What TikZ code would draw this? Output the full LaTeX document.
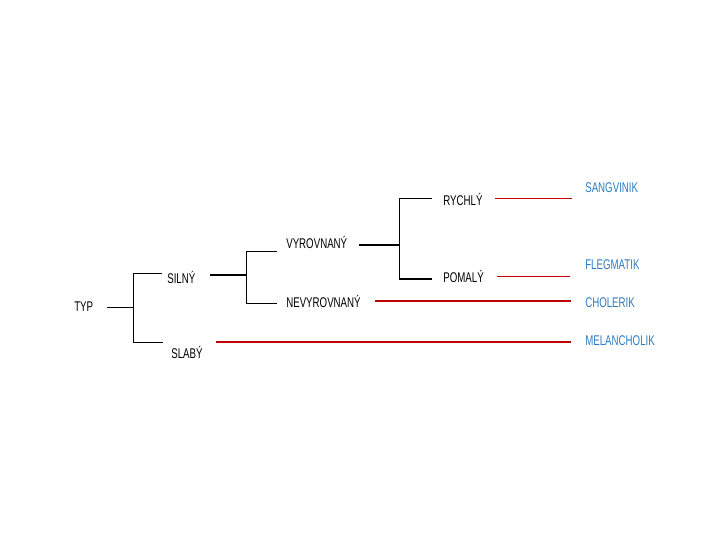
\documentclass[tikz,border=0pt]{standalone}
\usepackage{fontspec}
\usepackage{xcolor}
\usepackage{tikz}
\usetikzlibrary{arrows.meta,positioning}
\newfontfamily\lblfont[FakeStretch=0.69]{Liberation Sans}
\definecolor{typblue}{HTML}{2F7BBF}
\definecolor{typred}{HTML}{C00000}

\begin{document}
\begin{tikzpicture}[
  x=0.025cm, y=-0.025cm,
  lbl/.style={anchor=base west, inner sep=0pt, font=\lblfont\fontsize{10}{11}\selectfont},
  res/.style={lbl, text=typblue},
  thinline/.style={draw=black, line width=0.7pt},
  thickline/.style={draw=black, line width=1.4pt},
  redthin/.style={draw=typred, line width=0.75pt},
  redthick/.style={draw=typred, line width=1.8pt}
]
\useasboundingbox (0,0) rectangle (720,540);
% labels
\node[lbl] (typ) at (74,311) {TYP};
\node[lbl] (silny) at (167,283) {SILNÝ};
\node[lbl] (slaby) at (171,358) {SLABÝ};
\node[lbl] (vyrovnany) at (286,248) {VYROVNANÝ};
\node[lbl] (nevyrovnany) at (286,307) {NEVYROVNANÝ};
\node[lbl] (rychly) at (443,205) {RYCHLÝ};
\node[lbl] (pomaly) at (443,282) {POMALÝ};
\node[res] (sangvinik) at (585,192) {SANGVINIK};
\node[res] (flegmatik) at (585,269) {FLEGMATIK};
\node[res] (cholerik) at (585,307) {CHOLERIK};
\node[res] (melancholik) at (585,345) {MELANCHOLIK};
% line ends
\coordinate (typ-out) at (107,307);
\coordinate (silny-in) at (162,273);
\coordinate (slaby-in) at (163,342);
\coordinate (silny-out) at (210,275);
\coordinate (slaby-out) at (216,342);
\coordinate (vyr-in) at (277,251);
\coordinate (nevyr-in) at (277,303);
\coordinate (vyr-out) at (359,245);
\coordinate (nevyr-out) at (375,301);
\coordinate (rychly-in) at (432,198);
\coordinate (pomaly-in) at (432,279);
\coordinate (rychly-out) at (495,198.5);
\coordinate (pomaly-out) at (497,276.5);
\coordinate (sangvinik-in) at (572,198.5);
\coordinate (flegmatik-in) at (570,276.5);
\coordinate (cholerik-in) at (571,301);
\coordinate (melancholik-in) at (571,342);
% tree
\draw[thinline] (typ-out) -- (133,307);
\draw[thinline] (silny-in) -| (133,342) -- (slaby-in);
\draw[thickline] (silny-out) -- (246,275);
\draw[thinline] (vyr-in) -| (246,303) -- (nevyr-in);
\draw[thickline] (vyr-out) -- (399,245);
\draw[thinline] (rychly-in) -| (399,279);
\draw[thickline] (399,279) -- (pomaly-in);
% results
\draw[redthin] (rychly-out) -- (sangvinik-in);
\draw[redthin] (pomaly-out) -- (flegmatik-in);
\draw[redthick] (nevyr-out) -- (cholerik-in);
\draw[redthick] (slaby-out) -- (melancholik-in);
\end{tikzpicture}
\end{document}
